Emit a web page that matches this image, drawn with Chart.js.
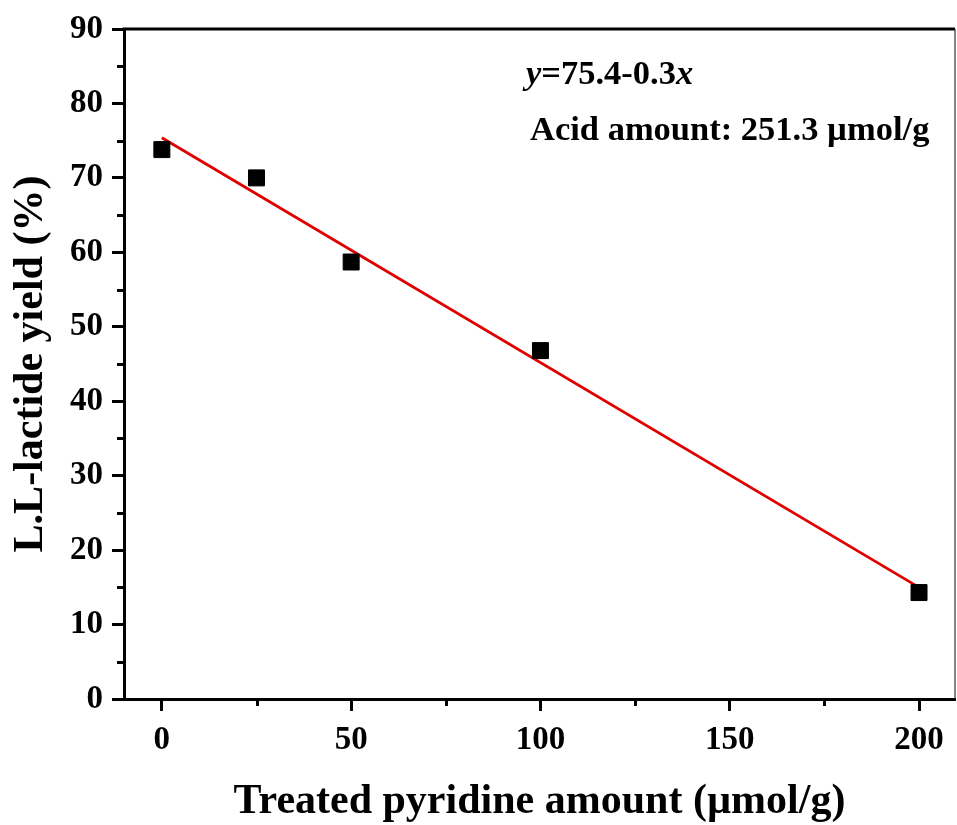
<!DOCTYPE html>
<html>
<head>
<meta charset="utf-8">
<script src="https://cdn.jsdelivr.net/npm/chart.js@4.4.1/dist/chart.umd.min.js"></script>
<style>
html,body{margin:0;padding:0;background:#fff;}
#wrap{width:957px;height:825px;position:relative;}
</style>
</head>
<body>
<div id="wrap"><canvas id="c" width="957" height="825"></canvas></div>
<script>
// Data
const pyridineAmount = [0, 25, 50, 100, 200];
const lactideYield = [73.8, 70.0, 58.7, 46.8, 14.3];
const fitX = [0, 200];
const fitY = [75.4, 15.0];
const xMajorTicks = [0, 50, 100, 150, 200];
const xMinorTicks = [25, 75, 125, 175];
const yMajorTicks = [0, 10, 20, 30, 40, 50, 60, 70, 80, 90];
const yMinorTicks = [5, 15, 25, 35, 45, 55, 65, 75, 85];
const equationText = ['y', '=75.4-0.3', 'x'];
const acidText = 'Acid amount: 251.3 \u00b5mol/g';
const xTitle = 'Treated pyridine amount (\u00b5mol/g)';
const yTitle = 'L.L-lactide yield (%)';

const FONT = '"Liberation Serif", "Times New Roman", serif';

const framePlugin = {
  id: 'frame',
  afterDraw(chart) {
    const ctx = chart.ctx;
    const a = chart.chartArea;
    const xs = chart.scales.x, ys = chart.scales.y;
    ctx.save();
    // minor ticks
    ctx.strokeStyle = '#000';
    ctx.lineWidth = 3;
    yMinorTicks.forEach(v => {
      const p = Math.round(ys.getPixelForValue(v)) + 0.5;
      ctx.beginPath(); ctx.moveTo(a.left - 7, p); ctx.lineTo(a.left, p); ctx.stroke();
    });
    xMinorTicks.forEach(v => {
      const p = Math.round(xs.getPixelForValue(v)) + 0.5;
      ctx.beginPath(); ctx.moveTo(p, a.bottom); ctx.lineTo(p, a.bottom + 7); ctx.stroke();
    });
    // top border
    ctx.lineWidth = 3;
    ctx.beginPath(); ctx.moveTo(a.left - 1.5, a.top); ctx.lineTo(a.right, a.top); ctx.stroke();
    // right border thin
    ctx.lineWidth = 1.2;
    ctx.strokeStyle = '#333';
    ctx.beginPath(); ctx.moveTo(a.right, a.top); ctx.lineTo(a.right, a.bottom); ctx.stroke();
    // annotation
    ctx.fillStyle = '#000';
    ctx.textBaseline = 'alphabetic';
    let x0 = 526, y0 = 84;
    ctx.font = 'italic bold 34.5px ' + FONT;
    ctx.fillText(equationText[0], x0, y0);
    x0 += ctx.measureText(equationText[0]).width;
    ctx.font = 'bold 34.5px ' + FONT;
    ctx.fillText(equationText[1], x0, y0);
    x0 += ctx.measureText(equationText[1]).width;
    ctx.font = 'italic bold 34.5px ' + FONT;
    ctx.fillText(equationText[2], x0, y0);
    ctx.font = 'bold 34.5px ' + FONT;
    ctx.fillText(acidText, 530, 140);
    ctx.restore();
  }
};

new Chart(document.getElementById('c'), {
  type: 'scatter',
  data: {
    datasets: [
      {
        type: 'line',
        label: 'fit',
        data: fitX.map((x, i) => ({x: x, y: fitY[i]})),
        borderColor: '#e00000',
        borderWidth: 2.8,
        pointRadius: 0,
        fill: false,
        order: 2
      },
      {
        label: 'yield',
        data: pyridineAmount.map((x, i) => ({x: x, y: lactideYield[i]})),
        backgroundColor: '#000',
        borderColor: '#000',
        pointStyle: 'rect',
        pointRadius: 11.3,
        pointHoverRadius: 11.3,
        order: 1
      }
    ]
  },
  options: {
    responsive: false,
    animation: false,
    events: [],
    layout: { autoPadding: false, padding: { top: 29, right: 2, left: 0, bottom: 0 } },
    plugins: { legend: { display: false }, tooltip: { enabled: false } },
    scales: {
      x: {
        type: 'linear',
        min: -10, max: 209.5,
        afterBuildTicks(scale) { scale.ticks = xMajorTicks.map(v => ({value: v})); },
        afterFit(scale) { scale.height = 126; scale.paddingLeft = 0; scale.paddingRight = 0; },
        border: { display: true, color: '#000', width: 3 },
        grid: { drawOnChartArea: false, drawTicks: true, tickLength: 12, tickWidth: 3, tickColor: '#000' },
        ticks: { color: '#000', padding: 10, font: { family: FONT, size: 33, weight: 'bold' } },
        title: { display: true, text: xTitle, color: '#000', padding: { top: 0, bottom: -2 }, font: { family: FONT, size: 42, weight: 'bold' } }
      },
      y: {
        type: 'linear',
        min: 0, max: 90,
        afterBuildTicks(scale) { scale.ticks = yMajorTicks.map(v => ({value: v})); },
        afterFit(scale) { scale.width = 124; scale.paddingTop = 0; scale.paddingBottom = 0; },
        border: { display: true, color: '#000', width: 3 },
        grid: { drawOnChartArea: false, drawTicks: true, tickLength: 12, tickWidth: 3, tickColor: '#000' },
        ticks: { color: '#000', padding: 9, font: { family: FONT, size: 33, weight: 'bold' } },
        title: { display: true, text: yTitle, color: '#000', padding: { top: 6, bottom: 0 }, font: { family: FONT, size: 42, weight: 'bold' } }
      }
    }
  },
  plugins: [framePlugin]
});
</script>
</body>
</html>
